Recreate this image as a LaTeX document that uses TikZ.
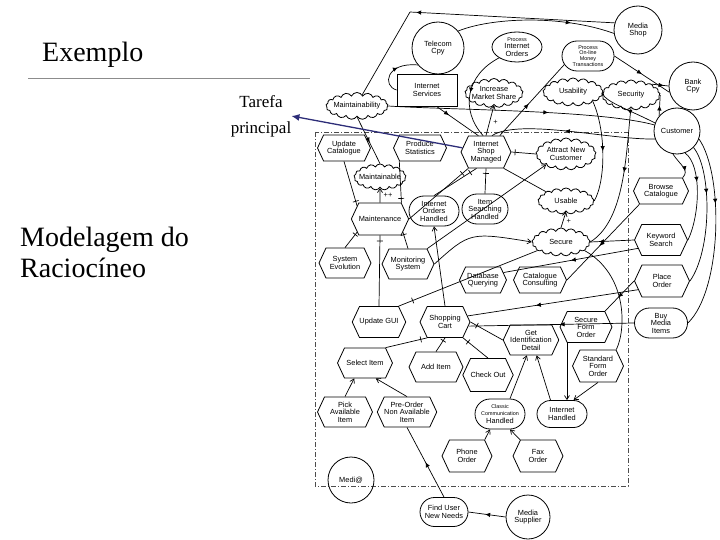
\documentclass[tikz,border=0pt]{standalone}
\usepackage{fontspec}
\setmainfont{Liberation Serif}
\newfontfamily\dsans{Liberation Sans}
\usetikzlibrary{shapes.symbols,shapes.misc,shapes.geometric,decorations.markings,arrows.meta,calc}
\newcommand\dfont{\dsans\fontsize{7.4}{7.5}\selectfont}
\newcommand\sfont{\dsans\fontsize{5.4}{5.8}\selectfont}
\tikzset{
 base/.style={draw, line width=0.8pt, inner sep=0pt, align=center, font=\dfont},
 task/.style={base, signal, signal to=west and east, signal pointer angle=130},
 goal/.style={base, rounded rectangle},
 goalell/.style={base, ellipse},
 soft/.style={base, cloud, cloud puffs=17, cloud puff arc=130, cloud ignores aspect},
 actor/.style={base, circle},
 res/.style={base, rectangle},
 tx/.style={font=\dfont, align=center, inner sep=0pt},
 ln/.style={line width=0.7pt},
 dep/.style={ln, postaction={decorate}, decoration={markings, mark=at position #1 with {\arrow{Latex[length=5pt,width=4.5pt]}}}},
 dep/.default=0.5,
 dec/.style={ln, postaction={decorate}, decoration={markings, mark=at position #1 with {\draw[line width=0.7pt] (0,-3pt)--(0,3pt);}}},
 dec/.default=0.85,
 me/.style={ln, -{Straight Barb[length=4pt,width=5pt]}},
 bnd/.style={line width=0.7pt, black!70, dash pattern=on 5pt off 2pt on 1pt off 2pt},
}
\begin{document}
\begin{tikzpicture}[x=1pt,y=-1pt]
\useasboundingbox (0,0) rectangle (720,540);
% left texts
\node[font=\fontsize{28}{30}\selectfont, anchor=base west, inner sep=0pt] (ex) at (42,62) {Exemplo};
\draw[black!45, line width=0.6pt] (28,78) -- (310,78);
\node[font=\fontsize{17}{26}\selectfont, align=center, inner sep=0pt] (tp) at (261,116) {Tarefa\\principal};
\node[font=\fontsize{28}{30}\selectfont, anchor=base west, inner sep=0pt] (mod1) at (20,246) {Modelagem do};
\node[font=\fontsize{28}{30}\selectfont, anchor=base west, inner sep=0pt] (mod2) at (20,277) {Raciocíneo};

% boundary
\draw[bnd] (315,132) rectangle (628,486);

% outside nodes
\node[actor, minimum size=52] (tel) at (438,48) {Telecom\\Cpy};
\node[goalell, minimum width=50, minimum height=30, label={[tx]center:{{\sfont Process}\\Internet\\Orders}}] (pio) at (517,47) {};
\node[goal, minimum width=52, minimum height=30, font=\sfont] (pomt) at (588,56) {Process\\On-line\\Money\\Transactions};
\node[actor, minimum size=48] (ms) at (638,30) {Media\\Shop};
\node[actor, minimum size=48] (bank) at (693,86) {Bank\\Cpy};
\node[actor, minimum size=46] (cust) at (677,131) {Customer};
\node[res, minimum width=60, minimum height=32] (is) at (427,90) {Internet\\Services};
\node[soft, minimum width=62, minimum height=27, label={[tx]center:Maintainability}] (mty) at (357,106) {};
\node[soft, minimum width=58, minimum height=29, label={[tx]center:{Increase\\Market Share}}] (ims) at (494,93) {};
\node[soft, minimum width=60, minimum height=28, label={[tx]center:Usability}] (usab) at (573,92) {};
\node[soft, minimum width=58, minimum height=30, label={[tx]center:Security}] (sec) at (631,95) {};

% inside nodes
\node[task, minimum width=53, minimum height=26] (uc) at (344,148) {Update\\Catalogue};
\node[task, minimum width=53, minimum height=26] (ps) at (420,148) {Produce\\Statistics};
\node[task, minimum width=50, minimum height=32] (ism) at (486,152) {Internet\\Shop\\Managed};
\node[soft, minimum width=60, minimum height=32, label={[tx]center:{Attract New\\Customer}}] (anc) at (566,154) {};
\node[soft, minimum width=52, minimum height=26, label={[tx]center:Maintainable}] (mtb) at (380,177) {};
\node[goal, minimum width=50, minimum height=30] (ioh) at (434,211) {Internet\\Orders\\Handled};
\node[goal, minimum width=46, minimum height=30] (ish) at (485,209) {Item\\Searching\\Handled};
\node[soft, minimum width=56, minimum height=26, label={[tx]center:Usable}] (usable) at (566,201) {};
\node[task, minimum width=52, minimum height=32] (mtn) at (380,219) {Maintenance};
\node[soft, minimum width=58, minimum height=28, label={[tx]center:Secure}] (secure) at (561,242) {};
\node[task, minimum width=52, minimum height=30] (se) at (345,263) {System\\Evolution};
\node[task, minimum width=52, minimum height=30] (mon) at (408,264) {Monitoring\\System};
\node[task, minimum width=47, minimum height=26] (dq) at (483,280) {Database\\Querying};
\node[task, minimum width=53, minimum height=26] (cc) at (540,280) {Catalogue\\Consulting};
\node[task, minimum width=55, minimum height=26] (bc) at (661,191) {Browse\\Catalogue};
\node[task, minimum width=53, minimum height=31] (ks) at (661,240) {Keyword\\Search};
\node[task, minimum width=55, minimum height=32] (po) at (662,281) {Place\\Order};
\node[goal, minimum width=53, minimum height=30] (bmi) at (661,323) {Buy\\Media\\Items};
\node[task, minimum width=52, minimum height=31] (ugui) at (379,322) {Update GUI};
\node[task, minimum width=50, minimum height=31] (sc) at (445,322) {Shopping\\Cart};
\node[task, minimum width=52, minimum height=31] (sfo) at (586,327) {Secure\\Form\\Order};
\node[task, minimum width=54, minimum height=30] (gid) at (531,340) {Get\\Identification\\Detail};
\node[task, minimum width=51, minimum height=32] (sfo2) at (598,366) {Standard\\Form\\Order};
\node[task, minimum width=55, minimum height=30] (si) at (365,363) {Select Item};
\node[task, minimum width=54, minimum height=30] (ai) at (436,367) {Add Item};
\node[task, minimum width=49, minimum height=33] (co) at (488,375) {Check Out};
\node[task, minimum width=55, minimum height=30] (pai) at (345,412) {Pick\\Available\\Item};
\node[task, minimum width=58, minimum height=30] (pre) at (407,412) {Pre-Order\\Non Available\\Item};
\node[goal, minimum width=50, minimum height=30] (cch) at (500,414) {{\sfont Classic}\\{\sfont Communication}\\Handled};
\node[goal, minimum width=50, minimum height=27] (ih) at (562,414) {Internet\\Handled};
\node[task, minimum width=50, minimum height=32] (ph) at (467,456) {Phone\\Order};
\node[task, minimum width=50, minimum height=32] (fax) at (538,456) {Fax\\Order};
\node[actor, minimum size=46] (medi) at (351,480) {Medi@};
\node[goal, minimum width=48, minimum height=29] (funn) at (444,512) {Find User\\New Needs};
\node[actor, minimum size=44] (msup) at (528,517) {Media\\Supplier};

% ---- top connectors
\coordinate (c1) at (410,12);
\draw[dep=0.97] (ms.163) -- (c1);
\draw[ln] (c1) -- (mty.65);
\draw[dep=0.72] (tel.40) .. controls (490,18) and (560,14) .. (ms.188);
\draw[dep=0.6] (is.west) .. controls (382,86) and (386,62) .. (tel.220);
\draw[dep=0.3] (is.-60) -- (ism.115);
\draw[me] (ism.north) -- (ims.south) node[pos=0.45, right, font=\dfont] {+};
\draw[dep=0.6] (mty.east) .. controls (450,110) and (600,110) .. (cust.165);
\draw[dep=0.55] (cust.200) .. controls (610,140) and (520,118) .. (ism.70);
\draw[dep=0.5] (pio.south west) .. controls (466,75) and (460,110) .. (ism.100);
\draw[dep=0.45] (ism.50) -- (pomt.200);
\draw[dep=0.55] (mty.south) -- (mtb.north);
\draw[dep=0.5] (pomt.east) -- (bank.195);
\draw[dep=0.7] (sec.north east) -- (bank.west);
\draw[dep=0.5] (cust.140) -- (sec.east);
\draw[dep=0.5] (cust.160) .. controls (630,110) and (600,100) .. (usab.east);
\draw[dep=0.5] (usab.south east) .. controls (606,130) and (606,180) .. (usable.east);
\draw[dep=0.45] (sec.south) .. controls (626,150) and (626,220) .. (secure.east);

% ---- middle connectors
\draw[dec=0.9] (uc.south) -- (mtn.150);
\draw[dec=0.9] (ps.south west) -- (mtn.north east);
\draw[me] (mtn.north) -- (mtb.south) node[pos=0.5, right, font=\dfont] {++};
\draw[dec=0.9] (mtn.east) -- (ism.south west);
\draw[dec=0.85] (ioh.north) -- (ism.240);
\draw[dec=0.8] (ish.north) -- (ism.south);
\draw[dec=0.85] (anc.west) -- (ism.east);
\draw[ln] (ism.south east) -- (usable.north west);
\draw[me] (secure.north) -- (usable.south) node[pos=0.4, right, font=\dfont] {+};
\draw[me] (mon.north east) -- (anc.south west);
\draw[me] (mon.east) .. controls (470,232) .. (secure.west);

% ---- customer tasks
\draw[dep=0.75] (cust.-100) .. controls (680,165) and (690,170) .. (bc.north east);
\draw[dep=0.35] (cust.-70) .. controls (702,165) and (700,215) .. (ks.east);
\draw[dep=0.35] (cust.-45) .. controls (712,170) and (712,250) .. (po.east);
\draw[dep=0.35] (cust.-20) .. controls (724,175) and (722,290) .. (bmi.east);
\draw[dep=0.55] (bc.south west) -- (cc.east);
\draw[dep=0.8] (ks.west) -- (secure.east);
\draw[dep=0.5] (ks.200) -- (dq.20);
\draw[dep=0.55] (po.west) -- (sfo.north east);
\draw[dep=0.6] (po.200) -- (sc.15);
\draw[dep=0.45] (bmi.west) -- (sc.-10);
\draw[ln] (secure.-20) .. controls (628,275) and (626,330) .. (sfo2.north east);

% ---- lower connectors
\draw[dec=0.92] (ugui.north) -- (mtn.south);
\draw[dec=0.85] (se.north) -- (mtn.210);
\draw[dec=0.85] (mon.north) -- (mtn.-30);
\draw[dec=0.1] (ugui.north east) -- (secure.200);
\draw[me] (sc.north) -- (ioh.south);
\draw[dec=0.15] (sc.south west) -- (si.north east);
\draw[dec=0.2] (sc.south) -- (ai.north);
\draw[dec=0.2] (sc.south east) -- (co.north);
\draw[dec=0.2] (sc.east) -- (gid.west);
\draw[me] (pai.north) -- (si.235);
\draw[me] (pre.north) -- (si.-55);
\draw[me] (cch.north east) -- (gid.255);
\draw[me] (ih.north west) -- (gid.290);
\draw[me] (sfo.south west) -- (sfo.south west |- ih.north);
\draw[me] (sfo2.south) -- (ih.north east);
\draw[me] (ph.north east) -- (cch.south west);
\draw[me] (fax.north west) -- (cch.south east);
\draw[dep=0.5] (funn.north) -- (pre.south);
\draw[dep=0.55] (msup.west) -- (funn.east);

% blue arrow
\draw[draw={rgb,255:red,45;green,45;blue,120}, line width=1.3pt, -{Latex[length=8pt,width=7pt]}] (ism.170) -- (tp.east);
\end{tikzpicture}
\end{document}
